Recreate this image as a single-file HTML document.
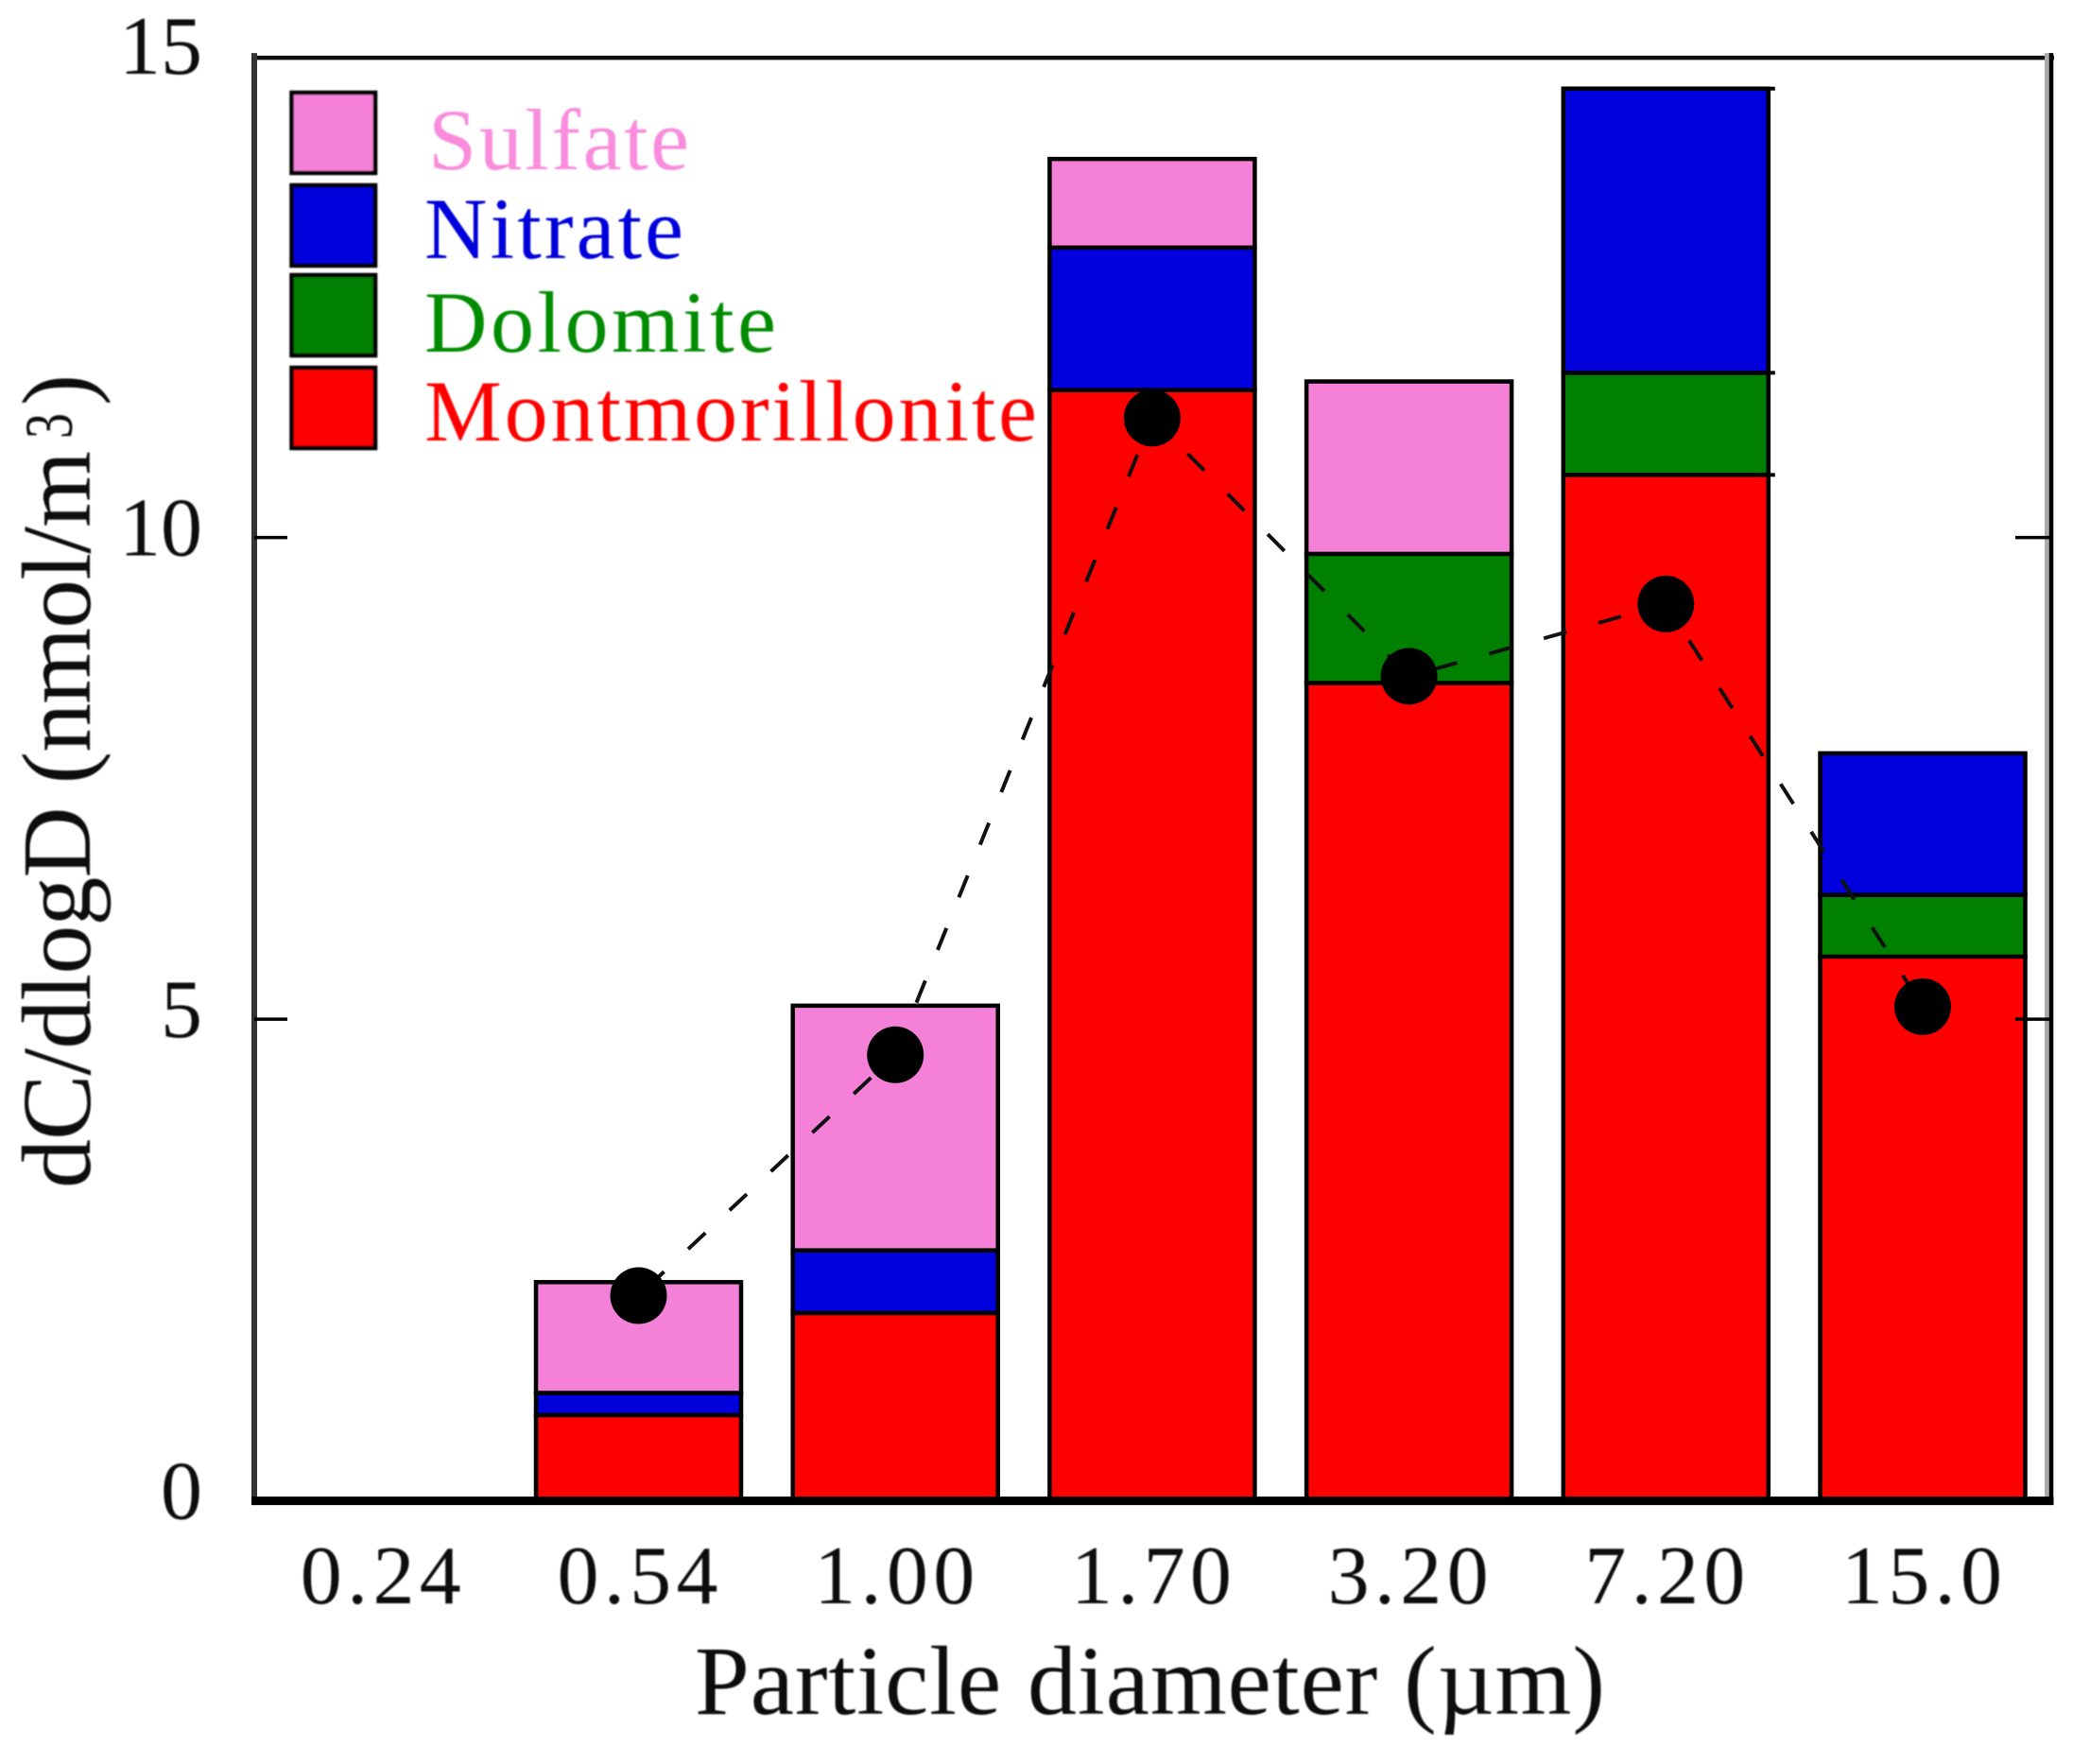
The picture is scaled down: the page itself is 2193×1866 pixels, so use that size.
<!DOCTYPE html>
<html lang="en">
<head>
<meta charset="utf-8">
<title>dC/dlogD stacked bars by particle diameter</title>
<style>
  html, body { margin: 0; padding: 0; background: #ffffff; }
  svg { display: block; }
  text { font-family: "Liberation Serif", "Times New Roman", serif; }
</style>
</head>
<body>
<svg id="chart" xmlns="http://www.w3.org/2000/svg" width="2193" height="1866" viewBox="0 0 2193 1866">
  <defs>
    <filter id="soft" x="-5%" y="-5%" width="110%" height="110%"><feGaussianBlur stdDeviation="0.8"/></filter>
  </defs>
  <rect x="0" y="0" width="2193" height="1866" fill="#ffffff"/>
  <g id="bars"></g>
  <g id="trend"></g>
  <g id="axes"></g>
  <g id="legend" filter="url(#soft)"></g>
  <text x="735" y="1813" font-size="104" fill="#111" textLength="963" lengthAdjust="spacing" filter="url(#soft)">Particle diameter (µm)</text>
  <g fill="#111" filter="url(#soft)">
    <text transform="translate(95 1257) rotate(-90)" font-size="104" textLength="780" lengthAdjust="spacing">dC/dlogD (nmol/m</text>
    <text transform="translate(76 464) rotate(-90)" font-size="72" textLength="27" lengthAdjust="spacingAndGlyphs">3</text>
    <text transform="translate(95 429) rotate(-90)" font-size="104" textLength="33" lengthAdjust="spacingAndGlyphs">)</text>
  </g>
</svg>
<script>
const categories = ["0.24", "0.54", "1.00", "1.70", "3.20", "7.20", "15.0"];
const montmorillonite = [0, 0.89, 1.95, 11.53, 8.49, 10.65, 5.65];
const dolomite = [0, 0, 0, 0, 1.34, 1.06, 0.64];
const nitrate = [0, 0.23, 0.65, 1.48, 0, 2.95, 1.47];
const sulfate = [0, 1.15, 2.54, 0.92, 1.79, 0, 0];
const totals = [null, 2.13, 4.63, 11.24, 8.56, 9.31, 5.13];
const yTicks = [0, 5, 10, 15];
const seriesNames = ["Montmorillonite", "Dolomite", "Nitrate", "Sulfate"];
const legendNames = ["Sulfate", "Nitrate", "Dolomite", "Montmorillonite"];

const SVG_NS = "http://www.w3.org/2000/svg";
const seriesValues = [montmorillonite, dolomite, nitrate, sulfate];
const colors = { Montmorillonite: "#ff0000", Dolomite: "#008000", Nitrate: "#0000dc", Sulfate: "#f480d8" };
const textColors = { Montmorillonite: "#ff0000", Dolomite: "#008c00", Nitrate: "#0000dc", Sulfate: "#f98cdc" };

function xAxis(i) { return 403.8 + 271.7 * i; }
function yAxis(v) { return 1587.6 - 101.9 * v; }

function make(parent, tag, attrs, text) {
  const node = document.createElementNS(SVG_NS, tag);
  for (const key in attrs) node.setAttribute(key, attrs[key]);
  if (text !== undefined) node.textContent = text;
  parent.appendChild(node);
  return node;
}

const barsGroup = document.getElementById("bars");
const trendGroup = document.getElementById("trend");
const axesGroup = document.getElementById("axes");
const legendGroup = document.getElementById("legend");
const BAR_W = 217;

categories.forEach(function (cat, i) {
  let base = 0;
  seriesValues.forEach(function (values, s) {
    const v = values[i];
    if (!v) return;
    const top = yAxis(base + v);
    const rect = make(barsGroup, "rect", {
      x: xAxis(i) - BAR_W / 2,
      y: top,
      width: BAR_W,
      height: yAxis(base) - top,
      fill: colors[seriesNames[s]],
      stroke: "#000",
      "stroke-width": 4.5
    });
    
    
    if (cat === "7.20") {
      const nub = make(barsGroup, "line", {
        x1: xAxis(i) + BAR_W / 2,
        x2: xAxis(i) + BAR_W / 2 + 7,
        y1: top,
        y2: top,
        stroke: "#000",
        "stroke-width": 4
      });
      
      
    }
    base += v;
  });
});

const linePoints = [];
totals.forEach(function (v, i) {
  if (v !== null) linePoints.push(xAxis(i) + "," + yAxis(v));
});
const trendLine = make(trendGroup, "polyline", {
  points: linePoints.join(" "),
  fill: "none",
  stroke: "#111",
  "stroke-width": 4,
  "stroke-dasharray": "25 35",
  "stroke-dashoffset": "-12"
});



totals.forEach(function (v, i) {
  if (v === null) return;
  const dot = make(trendGroup, "circle", { cx: xAxis(i), cy: yAxis(v), r: 30, fill: "#000" });
  
  
});

const frameLeft = 269, frameRight = 2170, frameTop = yAxis(15) + 2;
const topLine = make(axesGroup, "line", { x1: frameLeft, x2: frameRight + 3, y1: frameTop, y2: frameTop, stroke: "#111", "stroke-width": 4.5 });


const leftLine = make(axesGroup, "line", { x1: frameLeft, x2: frameLeft, y1: frameTop - 5, y2: yAxis(0) + 3, stroke: "#333", "stroke-width": 6 });


const rightShade = make(axesGroup, "line", { x1: frameRight - 4.5, x2: frameRight - 4.5, y1: frameTop - 5, y2: yAxis(0), stroke: "#aaa", "stroke-width": 5 });


const rightLine = make(axesGroup, "line", { x1: frameRight, x2: frameRight, y1: frameTop - 5, y2: yAxis(0) + 3, stroke: "#000", "stroke-width": 4.5 });


const bottomLine = make(axesGroup, "line", { x1: frameLeft - 3, x2: frameRight + 2.5, y1: yAxis(0), y2: yAxis(0), stroke: "#000", "stroke-width": 9 });



yTicks.forEach(function (t) {
  const label = make(axesGroup, "text", {
    x: 214,
    y: yAxis(t) + 19,
    "font-size": 88,
    "text-anchor": "end",
    fill: "#111",
    filter: "url(#soft)"
  }, String(t));
  
  
  if (t === 0 || t === 15) return;
  const leftTick = make(axesGroup, "line", { x1: frameLeft, x2: 304, y1: yAxis(t), y2: yAxis(t), stroke: "#000", "stroke-width": 3.5 });
  
  
  const rightTick = make(axesGroup, "line", { x1: 2132, x2: frameRight, y1: yAxis(t), y2: yAxis(t), stroke: "#000", "stroke-width": 3.5 });
  
  
});

categories.forEach(function (cat, i) {
  const label = make(axesGroup, "text", {
    x: xAxis(i) - 86,
    y: 1696,
    "font-size": 88,
    fill: "#111",
    textLength: 170,
    lengthAdjust: "spacing",
    filter: "url(#soft)"
  }, cat);
  
  
});

const legendTops = [98, 196, 291, 389];
const legendTextX = [453, 449, 449, 449];
const legendBaselines = [179, 273, 372, 466];
const legendWidths = [276, 274, 372, 648];
legendNames.forEach(function (name, i) {
  const swatch = make(legendGroup, "rect", {
    x: 308.5,
    y: legendTops[i],
    width: 88.5,
    height: 85,
    fill: colors[name],
    stroke: "#000",
    "stroke-width": 4.5
  });
  
  
  const label = make(legendGroup, "text", {
    x: legendTextX[i],
    y: legendBaselines[i],
    "font-size": 92,
    fill: textColors[name],
    textLength: legendWidths[i],
    lengthAdjust: "spacing"
  }, name);
  
  
});
</script>
</body>
</html>
